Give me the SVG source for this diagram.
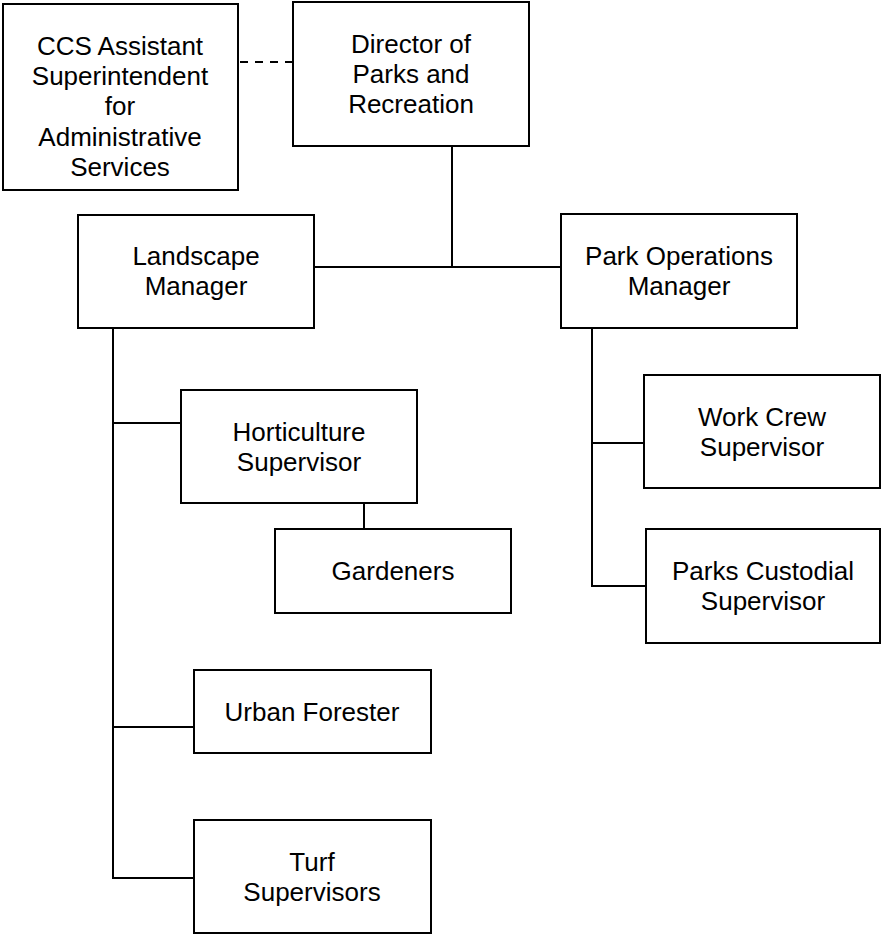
<svg xmlns="http://www.w3.org/2000/svg" width="882" height="934" viewBox="0 0 882 934">
  <style>
    .box { fill: #ffffff; stroke: #000000; stroke-width: 2; }
    .link { fill: none; stroke: #000000; stroke-width: 2; }
    .dashed { stroke-dasharray: 8 7; }
    text { font-family: "Liberation Sans", Arial, sans-serif; font-size: 26px; fill: #000000; text-anchor: middle; }
  </style>
  <rect width="882" height="934" fill="#ffffff"/>

  <!-- reporting lines -->
  <g id="connectors">
    <line class="link dashed" x1="240" y1="62" x2="293" y2="62"/>
    <line class="link" x1="452" y1="146" x2="452" y2="267"/>
    <line class="link" x1="314" y1="267" x2="561" y2="267"/>
    <!-- landscape branch -->
    <polyline class="link" points="113,328 113,878 194,878"/>
    <line class="link" x1="113" y1="423" x2="181" y2="423"/>
    <line class="link" x1="113" y1="727" x2="194" y2="727"/>
    <line class="link" x1="364" y1="503" x2="364" y2="529"/>
    <!-- park operations branch -->
    <polyline class="link" points="592,328 592,586 646,586"/>
    <line class="link" x1="592" y1="443" x2="644" y2="443"/>
  </g>

  <g id="ccs-assistant">
    <rect class="box" x="3" y="4" width="235" height="186"/>
    <text x="120" y="55">CCS Assistant</text>
    <text x="120" y="85">Superintendent</text>
    <text x="120" y="115">for</text>
    <text x="120" y="146">Administrative</text>
    <text x="120" y="176">Services</text>
  </g>

  <g id="director">
    <rect class="box" x="293" y="2" width="236" height="144"/>
    <text x="411" y="53">Director of</text>
    <text x="411" y="83">Parks and</text>
    <text x="411" y="113">Recreation</text>
  </g>

  <g id="landscape-manager">
    <rect class="box" x="78" y="215" width="236" height="113"/>
    <text x="196" y="265">Landscape</text>
    <text x="196" y="295">Manager</text>
  </g>

  <g id="park-operations-manager">
    <rect class="box" x="561" y="214" width="236" height="114"/>
    <text x="679" y="265">Park Operations</text>
    <text x="679" y="295">Manager</text>
  </g>

  <g id="horticulture-supervisor">
    <rect class="box" x="181" y="390" width="236" height="113"/>
    <text x="299" y="441">Horticulture</text>
    <text x="299" y="471">Supervisor</text>
  </g>

  <g id="gardeners">
    <rect class="box" x="275" y="529" width="236" height="84"/>
    <text x="393" y="580">Gardeners</text>
  </g>

  <g id="work-crew-supervisor">
    <rect class="box" x="644" y="375" width="236" height="113"/>
    <text x="762" y="426">Work Crew</text>
    <text x="762" y="456">Supervisor</text>
  </g>

  <g id="parks-custodial-supervisor">
    <rect class="box" x="646" y="529" width="234" height="114"/>
    <text x="763" y="580">Parks Custodial</text>
    <text x="763" y="610">Supervisor</text>
  </g>

  <g id="urban-forester">
    <rect class="box" x="194" y="670" width="237" height="83"/>
    <text x="312" y="721">Urban Forester</text>
  </g>

  <g id="turf-supervisors">
    <rect class="box" x="194" y="820" width="237" height="113"/>
    <text x="312" y="871">Turf</text>
    <text x="312" y="901">Supervisors</text>
  </g>
</svg>
